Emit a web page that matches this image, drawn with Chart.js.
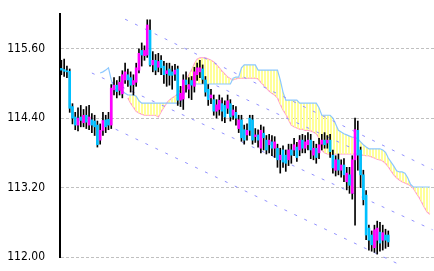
<!DOCTYPE html>
<html><head><meta charset="utf-8">
<script src="https://cdn.jsdelivr.net/npm/chart.js@4.4.1/dist/chart.umd.min.js"></script>
<style>html,body{margin:0;padding:0;background:#fff;}canvas{display:block;}</style>
</head><body>
<canvas id="c" width="434" height="271"></canvas>
<script>
// ---- data ----
const opens  = [115.26,115.24,115.22,115.21,114.60,114.42,114.28,114.42,114.32,114.45,114.28,114.37,114.35,114.28,114.02,114.19,114.37,114.38,114.28,114.89,114.97,114.88,114.82,115.06,115.15,115.10,114.98,115.02,115.23,115.57,115.48,115.49,115.92,115.32,115.40,115.28,115.40,115.30,115.17,115.25,115.20,115.16,115.25,114.71,114.73,115.06,114.90,115.05,114.95,115.15,115.20,115.25,115.06,114.90,114.75,114.72,114.52,114.55,114.65,114.62,114.57,114.65,114.45,114.50,114.22,114.37,114.20,114.11,114.40,114.37,114.08,114.11,113.88,114.14,114.02,113.94,113.99,113.88,113.88,113.68,113.85,113.76,113.68,113.85,113.85,113.90,113.85,114.02,113.88,113.94,114.02,113.76,113.88,113.80,113.95,114.02,113.97,114.02,113.76,113.50,113.68,113.50,113.59,113.30,113.42,113.10,113.68,114.19,113.85,113.42,113.07,112.50,112.38,112.16,112.29,112.43,112.29,112.38,112.38];
const highs  = [115.40,115.42,115.30,115.25,114.65,114.50,114.58,114.62,114.55,114.60,114.62,114.48,114.45,114.35,114.30,114.50,114.45,114.50,114.98,115.10,115.05,115.12,115.22,115.35,115.25,115.20,115.15,115.35,115.60,115.70,115.65,116.10,116.10,115.55,115.50,115.52,115.48,115.38,115.35,115.35,115.30,115.33,115.30,114.95,115.15,115.20,115.10,115.12,115.28,115.35,115.40,115.32,115.12,114.98,114.90,114.80,114.72,114.80,114.75,114.70,114.80,114.72,114.62,114.60,114.45,114.45,114.28,114.30,114.45,114.45,114.22,114.20,114.28,114.25,114.10,114.12,114.10,114.08,113.95,113.88,113.92,113.85,113.95,113.95,114.05,113.98,114.10,114.12,114.10,114.15,114.12,114.00,113.95,114.05,114.12,114.15,114.10,114.12,113.85,113.75,113.78,113.68,113.70,113.55,113.55,113.75,114.40,114.35,113.90,113.50,113.15,112.55,112.45,112.55,112.62,112.60,112.55,112.48,112.45];
const lows   = [115.15,115.12,115.10,114.50,114.30,114.20,114.18,114.25,114.25,114.22,114.20,114.15,114.10,113.90,113.95,114.10,114.15,114.20,114.22,114.80,114.75,114.80,114.75,115.00,114.95,114.85,114.80,114.95,115.18,115.30,115.40,115.45,115.30,115.20,115.15,115.20,115.15,115.00,114.95,114.97,114.90,115.05,114.62,114.60,114.55,114.85,114.75,114.72,114.85,115.05,115.10,115.00,114.78,114.62,114.65,114.45,114.40,114.45,114.35,114.32,114.48,114.35,114.38,114.28,114.15,114.00,113.95,114.02,114.10,113.95,113.98,113.90,113.80,113.85,113.78,113.80,113.75,113.72,113.55,113.45,113.55,113.48,113.58,113.62,113.75,113.65,113.75,113.80,113.80,113.85,113.70,113.68,113.62,113.70,113.85,113.88,113.88,113.72,113.45,113.40,113.42,113.38,113.30,113.16,113.10,113.00,112.55,113.50,113.20,112.90,112.30,112.12,112.10,112.08,112.05,112.10,112.12,112.15,112.18];
const closes = [115.23,115.21,115.20,114.57,114.40,114.28,114.40,114.36,114.45,114.33,114.42,114.28,114.25,113.94,114.19,114.36,114.25,114.28,114.92,114.97,114.86,115.02,115.15,115.20,115.06,114.97,115.05,115.27,115.52,115.49,115.57,116.01,115.32,115.40,115.23,115.38,115.27,115.15,115.22,115.14,115.14,115.23,114.71,114.83,115.06,114.98,114.98,114.97,115.20,115.27,115.27,115.07,114.85,114.72,114.80,114.52,114.63,114.71,114.52,114.42,114.70,114.42,114.54,114.40,114.37,114.06,114.02,114.19,114.19,114.02,114.11,114.02,114.19,114.06,113.85,114.02,113.88,113.99,113.68,113.76,113.64,113.62,113.85,113.76,113.94,113.72,114.02,113.88,113.99,114.02,113.85,113.88,113.72,113.94,114.02,113.94,114.02,113.82,113.54,113.68,113.50,113.59,113.42,113.45,113.24,113.68,114.20,113.76,113.42,112.99,112.38,112.29,112.21,112.47,112.50,112.24,112.42,112.29,112.26];
const totalSlots = 135;
const spanAStart = 14;
const spanAValues = [115.18,115.20,115.23,115.27,115.06,114.90,114.89,114.89,114.87,114.83,114.80,114.80,114.80,114.78,114.70,
 114.66,114.66,114.66,114.66,114.66,114.66,114.66,114.66,114.66,114.66,114.66,114.66,114.66,114.66,114.66,
 114.80,114.89,114.96,
 114.99,114.99,114.99,114.99,114.99,114.99,114.99,114.99,114.99,114.99,114.99,114.99,114.99,114.99,114.99,
 115.09,115.11,115.11,115.27,115.32,115.32,115.32,115.32,115.32,
 115.23,115.23,115.23,115.23,115.23,115.23,115.23,115.23,
 115.06,114.85,114.71,114.71,114.71,114.71,114.71,
 114.66,114.66,114.66,114.66,114.66,114.66,114.66,114.58,114.45,114.45,114.45,114.45,
 114.40,114.30,114.19,114.16,114.13,114.11,114.09,114.07,114.07,114.04,113.99,113.94,113.90,
 113.87,113.87,113.87,113.87,113.87,
 113.85,113.81,113.71,113.64,113.57,113.49,113.47,113.47,113.45,113.37,113.26,
 113.21,113.21,113.21,113.21,113.21,113.21,113.21];
const spanBStart = 24;
const spanBValues = [114.75,114.66,114.59,114.52,114.49,114.47,114.45,114.45,114.45,114.45,114.45,114.42,114.51,114.59,114.66,114.71,114.75,114.78,114.82,114.89,114.97,115.06,115.15,115.23,115.34,115.42,115.44,115.44,115.44,115.42,115.40,115.37,115.32,115.27,115.21,115.16,115.11,115.08,115.06,115.08,
 115.09,115.09,115.09,115.09,115.09,115.09,115.09,115.08,115.02,114.97,114.92,114.87,114.83,114.80,114.75,114.64,114.54,114.47,114.37,114.28,114.25,114.23,114.21,114.21,114.19,114.19,114.18,114.16,114.13,114.06,113.85,113.80,
 113.78,113.78,113.78,113.78,113.78,113.78,113.78,113.78,113.78,113.78,113.78,113.78,
 113.76,113.76,113.75,113.75,113.73,113.71,113.69,113.68,113.66,113.62,113.56,113.49,113.42,113.37,113.33,113.30,113.28,113.26,113.23,113.19,113.11,113.04,112.95,112.86,112.78,112.74];
// trend channel lines: [index, price] endpoints
const trendTop    = [[23,116.11],[134,113.51]];
const trendMid    = [[56,114.96],[104,113.90]];
const trendCenter = [[11,115.18],[134,112.47]];
const trendLow    = [[16,114.29],[122,111.87]];
const yTicks = [112.00,113.20,114.40,115.60];
const yMin = 112.0, yMax = 116.2;

// ---- build tables ----
const labels = Array.from({length: totalSlots}, (_, i) => i);
const pad = (start, vals) => labels.map(i => (i >= start && i - start < vals.length) ? vals[i - start] : null);
const wicks = opens.map((o, i) => [lows[i], highs[i]]);
const bodies = opens.map((o, i) => [o, closes[i]]);
const bodyColors = opens.map((o, i) => closes[i] >= o ? '#ff00ff' : '#00c0ff');
const trendDs = pts => ({type:'line', data: pts.map(p => ({x:p[0], y:p[1]})), borderColor:'#9090ff', borderWidth:1, borderDash:[3,8], pointRadius:0, fill:false, order:2, clip:false, tension:0});

const pc = document.createElement('canvas'); pc.width = 3; pc.height = 1;
const pg = pc.getContext('2d'); pg.fillStyle = '#ffff99'; pg.fillRect(0,0,2,1);
const ctx = document.getElementById('c').getContext('2d');
const hatch = ctx.createPattern(pc, 'repeat');

new Chart(ctx, {
  type: 'bar',
  data: {
    labels: labels,
    datasets: [
      {type:'line', data: pad(spanAStart, spanAValues), borderColor:'#8cc8ff', borderWidth:1.2, pointRadius:0, fill:'+1', backgroundColor: hatch, order:3, tension:0},
      {type:'line', data: pad(spanBStart, spanBValues), borderColor:'#ff99cc', borderWidth:1.2, pointRadius:0, fill:false, order:3, tension:0},
      trendDs(trendTop), trendDs(trendMid), trendDs(trendCenter), trendDs(trendLow),
      {data: wicks, backgroundColor:'#000', barThickness:1, grouped:false, order:1},
      {data: bodies, backgroundColor: bodyColors, barThickness:2, grouped:false, order:0, minBarLength:1}
    ]
  },
  options: {
    responsive:false, animation:false,
    layout:{padding:{top:14, bottom:14, left:0, right:0}},
    plugins:{legend:{display:false}, tooltip:{enabled:false}},
    scales:{
      x:{display:false, offset:true},
      y:{
        min:yMin, max:yMax,
        afterBuildTicks: s => { s.ticks = yTicks.map(v => ({value:v})); },
        afterFit: s => { s.width = 60; },
        ticks:{color:'#000', padding:0, font:{family:"'Liberation Sans Narrow','DejaVu Sans Condensed',sans-serif", size:12}, callback: v => Number(v).toFixed(2)},
        grid:{color:'#c0c0c0', drawTicks:true, tickLength:15, tickColor:'rgba(0,0,0,0)', lineWidth:1},
        border:{display:true, color:'#000', width:2, dash:[3,2]}
      }
    }
  }
});
</script>
</body></html>
